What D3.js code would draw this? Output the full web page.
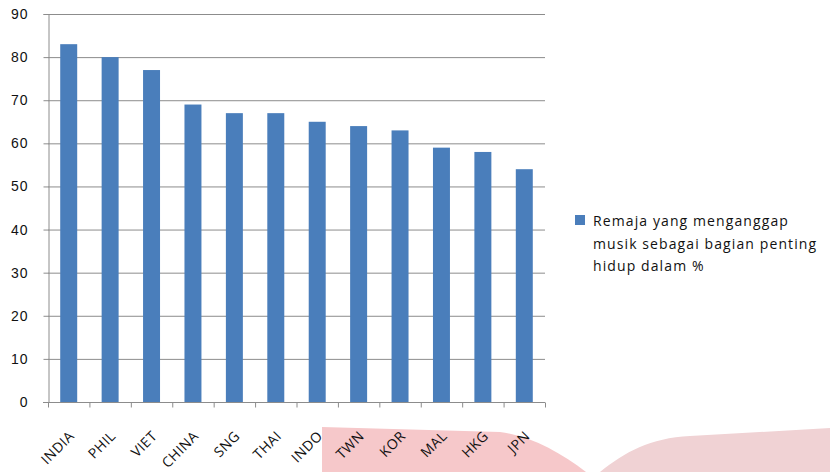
<!DOCTYPE html>
<html>
<head>
<meta charset="utf-8">
<script src="https://cdn.jsdelivr.net/npm/d3@7"></script>
<style>
  body { margin: 0; background: #fff; }
  svg { display: block; font-family: "Open Sans", Lato, sans-serif; }
</style>
</head>
<body>
<div id="chart"></div>
<script>
// data
var countries = ["INDIA", "PHIL", "VIET", "CHINA", "SNG", "THAI", "INDO", "TWN", "KOR", "MAL", "HKG", "JPN"];
var values = [83, 80, 77, 69, 67, 67, 65, 64, 63, 59, 58, 54];
var yTicks = [0, 10, 20, 30, 40, 50, 60, 70, 80, 90];
var legendLines = ["Remaja yang menganggap", "musik sebagai bagian penting", "hidup dalam %"];

var width = 830, height = 472;
var margin = {left: 48, right: 285, top: 14, bottom: 70};

var svg = d3.select("#chart").append("svg")
  .attr("width", width)
  .attr("height", height);

// pink background decoration at the bottom
svg.append("path")
  .attr("d", "M322,427 L500,432 C530,436 560,452 586,472 L322,472 Z")
  .attr("fill", "#f6c8ca");
svg.append("path")
  .attr("d", "M600,472 C625,452 650,438 690,436 L830,428 L830,472 Z")
  .attr("fill", "#f0d2d4");

var x = d3.scaleBand()
  .domain(countries)
  .range([margin.left, width - margin.right])
  .paddingInner(0.59)
  .paddingOuter(0.295);

var y = d3.scaleLinear()
  .domain([0, 90])
  .range([height - margin.bottom, margin.top]);

// gridlines
svg.append("g")
  .selectAll("line")
  .data(yTicks.slice(1))
  .enter()
  .append("line")
    .attr("x1", margin.left)
    .attr("x2", width - margin.right)
    .attr("y1", function(d) { return y(d) + 0.5; })
    .attr("y2", function(d) { return y(d) + 0.5; })
    .attr("stroke", "#8c8c8c")
    .attr("stroke-width", 1);

// bars
svg.append("g")
  .selectAll("rect")
  .data(values)
  .enter()
  .append("rect")
    .attr("x", function(d, i) { return x(countries[i]); })
    .attr("y", function(d) { return y(d); })
    .attr("width", x.bandwidth())
    .attr("height", function(d) { return y(0) - y(d); })
    .attr("fill", "#4a7ebb");

// y axis
var yAxis = svg.append("g")
  .attr("transform", "translate(" + (margin.left + 0.5) + ",0)")
  .call(d3.axisLeft(y).tickValues(yTicks).tickSize(5).tickPadding(15));
yAxis.select(".domain").attr("stroke", "#8c8c8c");
yAxis.selectAll(".tick line").attr("stroke", "#8c8c8c");
yAxis.selectAll("text")
  .attr("font-size", 14)
  .attr("letter-spacing", 1)
  .attr("fill", "#111");

// x axis with ticks between categories
var step = x.step();
var xAxis = svg.append("g")
  .attr("transform", "translate(0," + (y(0) + 0.5) + ")");
xAxis.append("line")
  .attr("x1", margin.left - 5)
  .attr("x2", width - margin.right)
  .attr("stroke", "#8c8c8c");
xAxis.selectAll(".sep")
  .data(d3.range(countries.length + 1))
  .enter()
  .append("line")
    .attr("x1", function(i) { return margin.left + i * step + 0.5; })
    .attr("x2", function(i) { return margin.left + i * step + 0.5; })
    .attr("y1", 0)
    .attr("y2", 5)
    .attr("stroke", "#8c8c8c");
xAxis.selectAll("text")
  .data(countries)
  .enter()
  .append("text")
    .attr("transform", function(d) {
      return "translate(" + (x(d) + x.bandwidth() / 2 + 3) + ",31) rotate(-45)";
    })
    .attr("text-anchor", "end")
    .attr("dy", "0.35em")
    .attr("font-size", 14)
    .attr("letter-spacing", 0.5)
    .attr("fill", "#111")
    .text(function(d) { return d; });

// legend
var legend = svg.append("g").attr("transform", "translate(575,0)");
legend.append("rect")
  .attr("x", 0).attr("y", 215)
  .attr("width", 10).attr("height", 10)
  .attr("fill", "#4a7ebb");
legend.selectAll("text")
  .data(legendLines)
  .enter()
  .append("text")
    .attr("x", 18)
    .attr("y", function(d, i) { return 226 + i * 22.5; })
    .attr("font-size", 14)
    .attr("letter-spacing", 1.1)
    .attr("fill", "#111")
    .text(function(d) { return d; });
</script>
</body>
</html>
